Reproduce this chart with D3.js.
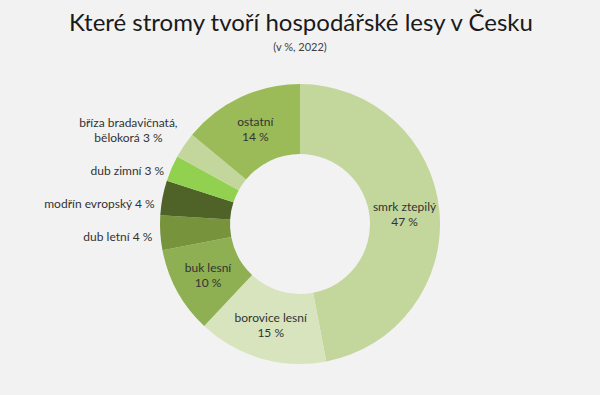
<!DOCTYPE html>
<html>
<head>
<meta charset="utf-8">
<script src="https://cdn.jsdelivr.net/npm/d3@7"></script>
<style>
  html, body { margin: 0; padding: 0; background: #f2f2f2; }
  svg { display: block; font-family: Lato, 'Open Sans', sans-serif; }
</style>
</head>
<body>
<div id="chart"></div>
<script>
// data
var labels = ['smrk ztepilý', 'borovice lesní', 'buk lesní', 'dub letní', 'modřín evropský', 'dub zimní', 'bříza bradavičnatá, bělokorá', 'ostatní']
var shares = [47, 15, 10, 4, 4, 3, 3, 14]
var colors = ['#c3d69b', '#d7e4bd', '#8eaf52', '#77933c', '#4f6228', '#92d050', '#c3d69b', '#9bbb59']
var outside = [false, false, false, true, true, true, true, false]
// line breaks for the outside labels
var outsideLines = {
  'bříza bradavičnatá, bělokorá': ['bříza bradavičnatá,', 'bělokorá 3 %']
}

var width = 600
var height = 395
var cx = 300
var cy = 224
var outerR = 140
var innerR = 70
var lineH = 15

var svg = d3
  .select('#chart')
  .append('svg')
  .attr('width', width)
  .attr('height', height)

svg
  .append('rect')
  .attr('width', width)
  .attr('height', height)
  .attr('fill', '#f2f2f2')

svg
  .append('text')
  .attr('x', 301)
  .attr('y', 31)
  .attr('text-anchor', 'middle')
  .attr('font-size', 24)
  .attr('fill', '#1a1a1a')
  .text('Které stromy tvoří hospodářské lesy v Česku')

svg
  .append('text')
  .attr('x', 300)
  .attr('y', 51)
  .attr('text-anchor', 'middle')
  .attr('font-size', 11)
  .attr('fill', '#404040')
  .text('(v %, 2022)')

var data = labels.map((d, i) => {
  return { name: d, value: shares[i], color: colors[i], outside: outside[i] }
})

var pie = d3
  .pie()
  .value(d => d.value)
  .sort(null)

var arc = d3
  .arc()
  .innerRadius(innerR)
  .outerRadius(outerR)

var labelArc = d3
  .arc()
  .innerRadius(105)
  .outerRadius(105)

var outArc = d3
  .arc()
  .innerRadius(148)
  .outerRadius(148)

var g = svg
  .append('g')
  .attr('transform', 'translate(' + cx + ',' + cy + ')')

var arcs = pie(data)

g.selectAll('path')
  .data(arcs)
  .enter()
  .append('path')
  .attr('d', arc)
  .attr('fill', d => d.data.color)

// labels inside the ring
arcs.filter(d => !d.data.outside).forEach(d => {
  var c = labelArc.centroid(d)
  var t = g
    .append('text')
    .attr('x', c[0])
    .attr('y', c[1])
    .attr('text-anchor', 'middle')
    .attr('font-size', 12)
    .attr('fill', '#333')
  t.append('tspan').attr('x', c[0]).attr('dy', '-0.25em').text(d.data.name)
  t.append('tspan').attr('x', c[0]).attr('dy', '1.25em').text(d.data.value + ' %')
})

// small slices get their label to the left; spread them so they don't collide
var outs = arcs.filter(d => d.data.outside).map(d => {
  var c = outArc.centroid(d)
  var lines = outsideLines[d.data.name] || [d.data.name + ' ' + d.data.value + ' %']
  return { d: d, x: c[0], y: c[1], lines: lines, h: lines.length * lineH }
})
outs.sort((a, b) => a.y - b.y)
var pad = 18
for (var it = 0; it < 200; it++) {
  for (var k = 0; k < outs.length - 1; k++) {
    var a = outs[k]
    var b = outs[k + 1]
    var need = (a.h + b.h) / 2 + pad
    var gap = b.y - a.y
    if (gap < need) {
      var shift = (need - gap) / 2
      a.y -= shift
      b.y += shift
    }
  }
}

outs.forEach(o => {
  var t = g
    .append('text')
    .attr('text-anchor', 'middle')
    .attr('font-size', 12)
    .attr('fill', '#333')
  var spans = o.lines.map((l, i) => {
    return t.append('tspan').attr('dy', i === 0 ? 0 : lineH).text(l)
  })
  var w = d3.max(spans, s => s.node().getComputedTextLength())
  var x = o.x - w / 2
  t.attr('y', o.y + 6 - (o.lines.length - 1) * lineH / 2)
  spans.forEach(s => s.attr('x', x))
})
</script>
</body>
</html>
